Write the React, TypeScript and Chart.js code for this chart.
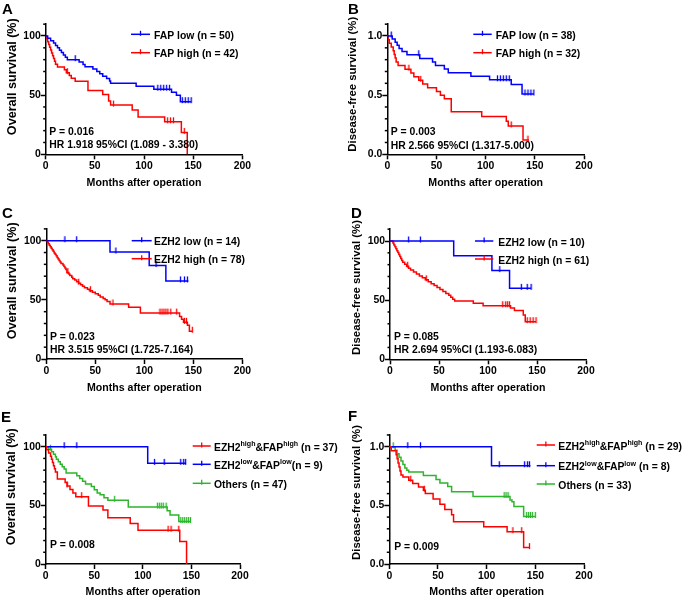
import React, { useEffect, useRef } from 'react';
import { Chart, registerables } from 'chart.js';
Chart.register(...registerables);

const FONT = '"Liberation Sans", Arial, Helvetica, sans-serif';
const BLUE = '#0000ff';
const RED = '#ff0000';
const GREEN = '#2db52d';

// ---------- Panel A: Overall survival by FAP ----------
const aLowT = [2, 5, 8, 10, 12, 14, 16, 18, 20, 22, 34, 38, 40, 48, 52, 55, 58, 62, 65, 66, 92, 110, 128, 133, 137];
const aLowS = [98, 96, 94, 92, 90, 88, 86, 84, 82, 80, 78, 76, 74, 72, 70, 68, 66, 64, 62, 60, 57.5, 55, 52.5, 50, 44.5];
const aLowC = [30, 114, 117, 120, 123, 126, 139, 142, 145, 148];
const aLowEnd = 148;
const aHighT = [1, 2, 3, 4, 5, 6, 7, 8, 9, 10, 12, 19, 21, 24, 26, 30, 43, 58, 64, 66, 88, 94, 121, 138, 144];
const aHighS = [97.6, 95.2, 92.9, 90.5, 88.1, 85.7, 83.3, 81.0, 78.6, 76.2, 73.8, 71.4, 69.0, 66.6, 64.2, 61.8, 54.0, 50.5, 45.0, 41.6, 37.5, 31.5, 27.5, 18.5, 0];
const aHighC = [22, 69, 124, 127, 130, 141];
const aHighEnd = 144;
const aLabels = ['FAP low (n = 50)', 'FAP high (n = 42)'];
const aNotes = ['P = 0.016', 'HR 1.918 95%CI (1.089 - 3.380)'];

// ---------- Panel B: Disease-free survival by FAP ----------
const bLowT = [5, 8, 10, 12, 15, 20, 33, 46, 49, 58, 62, 85, 104, 126, 137];
const bLowS = [0.974, 0.947, 0.921, 0.895, 0.868, 0.842, 0.81, 0.78, 0.75, 0.72, 0.69, 0.66, 0.63, 0.59, 0.51];
const bLowC = [4, 32, 112, 115, 118, 121, 124, 140, 143, 146, 149];
const bLowEnd = 149;
const bHighT = [1, 2, 4, 6, 7, 8, 9, 11, 18, 24, 27, 32, 36, 41, 50, 54, 58, 65, 96, 121, 123, 138];
const bHighS = [0.969, 0.938, 0.906, 0.875, 0.844, 0.813, 0.781, 0.75, 0.719, 0.688, 0.656, 0.625, 0.594, 0.563, 0.531, 0.5, 0.469, 0.36, 0.32, 0.28, 0.24, 0.12];
const bHighC = [22, 34, 126, 143];
const bHighEnd = 144;
const bLabels = ['FAP low (n = 38)', 'FAP high (n = 32)'];
const bNotes = ['P = 0.003', 'HR 2.566 95%CI (1.317-5.000)'];

// ---------- Panel C: Overall survival by EZH2 ----------
const cLowT = [65, 105, 122];
const cLowS = [90.5, 79, 66];
const cLowC = [19, 31, 71, 112, 137, 141, 144];
const cLowEnd = 145;
const cHighT = [1, 2, 3, 4, 5, 6, 7, 8, 9, 10, 11, 12, 13, 14, 15, 17, 18, 19, 20, 21, 23, 24, 26, 27, 29, 31, 33, 35, 37, 39, 42, 44, 47, 50, 53, 55, 58, 60, 62, 65, 84, 96, 136, 138, 140, 144, 146];
const cHighS = [98.7, 97.4, 96.2, 94.9, 93.6, 92.3, 91.0, 89.7, 88.5, 87.2, 85.9, 84.6, 83.3, 82.1, 80.8, 79.5, 78.2, 76.9, 75.6, 73.1, 71.8, 70.5, 69.2, 67.9, 66.7, 65.4, 64.1, 62.8, 61.5, 60.2, 59.0, 57.7, 56.4, 55.1, 53.8, 52.5, 51.2, 50.0, 48.5, 46.5, 43.7, 38.8, 36.0, 33.5, 31.0, 28.5, 23.5];
const cHighC = [22, 33, 45, 68, 116, 118, 120, 122, 124, 127, 133, 141, 143, 149];
const cHighEnd = 149;
const cLabels = ['EZH2 low (n = 14)', 'EZH2 high (n = 78)'];
const cNotes = ['P = 0.023', 'HR 3.515 95%CI (1.725-7.164)'];

// ---------- Panel D: Disease-free survival by EZH2 ----------
const dLowT = [65, 104, 122];
const dLowS = [87.5, 75, 60];
const dLowC = [19, 31, 112, 134, 140, 144];
const dLowEnd = 144;
const dHighT = [3, 4, 5, 6, 7, 8, 9, 10, 11, 12, 13, 15, 17, 19, 21, 24, 27, 30, 33, 36, 39, 42, 45, 48, 51, 54, 57, 60, 62, 64, 66, 85, 95, 123, 127, 136, 138];
const dHighS = [98.4, 96.7, 95.1, 93.4, 91.8, 90.2, 88.5, 86.9, 85.2, 83.6, 82.0, 80.3, 78.7, 77.0, 75.4, 73.8, 72.1, 70.5, 68.9, 67.2, 65.6, 63.9, 62.3, 60.7, 59.0, 57.4, 55.7, 54.1, 52.5, 50.8, 49.2, 47.3, 45.3, 43.3, 41.3, 37.5, 31.8];
const dHighC = [18, 37, 115, 118, 120, 122, 140, 143, 146, 149];
const dHighEnd = 149;
const dLabels = ['EZH2 low (n = 10)', 'EZH2 high (n = 61)'];
const dNotes = ['P = 0.085', 'HR 2.694 95%CI (1.193-6.083)'];

// ---------- Panel E: Overall survival, combined ----------
const eHhT = [1, 3, 5, 6, 7, 8, 9, 10, 12, 20, 22, 25, 28, 31, 44, 59, 64, 87, 95, 138, 145];
const eHhS = [97.3, 94.6, 91.9, 89.2, 86.5, 83.8, 81.1, 78.4, 72.5, 69.5, 66.5, 63.5, 60.5, 57.4, 49.5, 46, 39.5, 34.5, 28.8, 19.2, 0];
const eHhC = [22, 37, 126, 129, 137];
const eHhEnd = 145;
const eLlT = [105];
const eLlS = [85.8];
const eLlC = [19, 32, 112, 122, 139, 142, 144];
const eLlEnd = 144.5;
const eOtT = [3, 6, 8, 10, 11, 13, 15, 17, 19, 21, 32, 35, 38, 41, 47, 50, 53, 56, 60, 64, 85, 125, 128, 137];
const eOtS = [97.9, 95.7, 93.6, 91.5, 89.4, 87.2, 85.1, 83.0, 80.9, 77.5, 75.2, 72.9, 70.6, 68.3, 66.0, 63.3, 60.6, 59.0, 56.5, 54.3, 48.5, 45.5, 41.8, 36.2];
const eOtC = [5, 71, 115, 117, 119, 121, 124, 139, 141, 143, 145, 147, 149];
const eOtEnd = 149;
const eLabels = ['EZH2^{high}&FAP^{high} (n = 37)', 'EZH2^{low}&FAP^{low}(n = 9)', 'Others (n = 47)'];
const eNotes = ['P = 0.008'];

// ---------- Panel F: Disease-free survival, combined ----------
const fHhT = [2, 7, 8, 9, 10, 11, 12, 14, 20, 24, 30, 35, 37, 45, 52, 57, 64, 66, 97, 121, 138];
const fHhS = [0.966, 0.931, 0.897, 0.862, 0.828, 0.793, 0.759, 0.741, 0.714, 0.686, 0.657, 0.629, 0.6, 0.555, 0.51, 0.465, 0.42, 0.36, 0.318, 0.276, 0.14];
const fHhC = [22, 36, 127, 136, 144];
const fHhEnd = 144;
const fLlT = [105];
const fLlS = [0.838];
const fLlC = [19, 32, 113, 139, 142, 144];
const fLlEnd = 145;
const fOtT = [6, 8, 10, 12, 14, 16, 18, 20, 35, 48, 52, 60, 64, 86, 124, 126, 128, 138];
const fOtS = [0.97, 0.939, 0.909, 0.879, 0.848, 0.818, 0.8, 0.785, 0.755, 0.72, 0.69, 0.66, 0.615, 0.575, 0.545, 0.53, 0.49, 0.405];
const fOtC = [4, 118, 120, 122, 141, 143, 145, 147, 150];
const fOtEnd = 150;
const fLabels = ['EZH2^{high}&FAP^{high} (n = 29)', 'EZH2^{low}&FAP^{low} (n = 8)', 'Others (n = 33)'];
const fNotes = ['P = 0.009'];

const xTicks = [0, 50, 100, 150, 200];
const X_TITLE = 'Months after operation';

type Curve = { t: number[]; s: number[]; c: number[]; end: number; color: string; label: string };

const PANELS = [
  {
    letter: 'A', letterPos: [2, 13.5], L: 45.7, R: 242.3, B: 154.3, Y100: 36, frac: false,
    yTitle: 'Overall survival (%)', yTitleSize: 12.6, yTitlePos: [12.3, 76.7], xTitlePos: [144, 182.7],
    curves: [
      { t: aLowT, s: aLowS, c: aLowC, end: aLowEnd, color: BLUE, label: aLabels[0] },
      { t: aHighT, s: aHighS, c: aHighC, end: aHighEnd, color: RED, label: aLabels[1] },
    ] as Curve[],
    legend: { x1: 131, x2: 150, tx: 154, rows: [34.3, 52.7] },
    notes: { x: 49.3, rows: [131.7, 145], texts: aNotes },
  },
  {
    letter: 'B', letterPos: [348, 13.5], L: 387.3, R: 584, B: 154.3, Y100: 36, frac: true,
    yTitle: 'Disease-free survival (%)', yTitleSize: 11.4, yTitlePos: [353.3, 84.2], xTitlePos: [485.7, 182.7],
    curves: [
      { t: bLowT, s: bLowS, c: bLowC, end: bLowEnd, color: BLUE, label: bLabels[0] },
      { t: bHighT, s: bHighS, c: bHighC, end: bHighEnd, color: RED, label: bLabels[1] },
    ] as Curve[],
    legend: { x1: 473.3, x2: 491.7, tx: 495.7, rows: [34.3, 52.7] },
    notes: { x: 390.7, rows: [132.5, 146.2], texts: bNotes },
  },
  {
    letter: 'C', letterPos: [2, 218], L: 46.3, R: 242.3, B: 359, Y100: 240.7, frac: false,
    yTitle: 'Overall survival (%)', yTitleSize: 12.6, yTitlePos: [12.3, 280.8], xTitlePos: [144.3, 387.7],
    curves: [
      { t: cLowT, s: cLowS, c: cLowC, end: cLowEnd, color: BLUE, label: cLabels[0] },
      { t: cHighT, s: cHighS, c: cHighC, end: cHighEnd, color: RED, label: cLabels[1] },
    ] as Curve[],
    legend: { x1: 131.7, x2: 151.7, tx: 154, rows: [240.7, 258.7] },
    notes: { x: 50, rows: [336.7, 350.5], texts: cNotes },
  },
  {
    letter: 'D', letterPos: [351, 218], L: 390, R: 586, B: 359.3, Y100: 241, frac: false,
    yTitle: 'Disease-free survival (%)', yTitleSize: 11.4, yTitlePos: [356.7, 287.5], xTitlePos: [488, 387.7],
    curves: [
      { t: dLowT, s: dLowS, c: dLowC, end: dLowEnd, color: BLUE, label: dLabels[0] },
      { t: dHighT, s: dHighS, c: dHighC, end: dHighEnd, color: RED, label: dLabels[1] },
    ] as Curve[],
    legend: { x1: 475, x2: 493.3, tx: 498.3, rows: [241, 259] },
    notes: { x: 394, rows: [336.7, 350.5], texts: dNotes },
  },
  {
    letter: 'E', letterPos: [1, 422], L: 45.7, R: 240, B: 564, Y100: 446.7, frac: false,
    yTitle: 'Overall survival (%)', yTitleSize: 12.6, yTitlePos: [11.7, 486.7], xTitlePos: [143, 592.3],
    curves: [
      { t: eHhT, s: eHhS, c: eHhC, end: eHhEnd, color: RED, label: eLabels[0] },
      { t: eLlT, s: eLlS, c: eLlC, end: eLlEnd, color: BLUE, label: eLabels[1] },
      { t: eOtT, s: eOtS, c: eOtC, end: eOtEnd, color: GREEN, label: eLabels[2] },
    ] as Curve[],
    legend: { x1: 192.7, x2: 210.7, tx: 214, rows: [446, 464.3, 483.3] },
    notes: { x: 50, rows: [545], texts: eNotes },
  },
  {
    letter: 'F', letterPos: [348, 421], L: 389.3, R: 584, B: 564, Y100: 446.7, frac: true,
    yTitle: 'Disease-free survival (%)', yTitleSize: 11.4, yTitlePos: [356.7, 492.5], xTitlePos: [486.7, 592.3],
    curves: [
      { t: fHhT, s: fHhS, c: fHhC, end: fHhEnd, color: RED, label: fLabels[0] },
      { t: fLlT, s: fLlS, c: fLlC, end: fLlEnd, color: BLUE, label: fLabels[1] },
      { t: fOtT, s: fOtS, c: fOtC, end: fOtEnd, color: GREEN, label: fLabels[2] },
    ] as Curve[],
    legend: { x1: 536.7, x2: 555, tx: 558.3, rows: [445, 465.7, 484] },
    notes: { x: 394.3, rows: [547], texts: fNotes },
  },
];

const W = 685;
const H = 599;
const TEXT = 10.4;

function stepAt(t: number[], s: number[], start: number, x: number) {
  let v = start;
  for (let i = 0; i < t.length; i++) if (t[i] <= x) v = s[i];
  return v;
}

function kmPoints(c: Curve, start: number) {
  const pts = [{ x: 0, y: start }];
  c.t.forEach((ti, i) => pts.push({ x: ti, y: c.s[i] }));
  if (c.end > c.t[c.t.length - 1]) pts.push({ x: c.end, y: c.s[c.s.length - 1] });
  return pts;
}

function tickImage(color: string) {
  const cv = document.createElement('canvas');
  cv.width = 3;
  cv.height = 11;
  const g = cv.getContext('2d')!;
  g.strokeStyle = color;
  g.lineWidth = 1.3;
  g.beginPath();
  g.moveTo(1.5, 1);
  g.lineTo(1.5, 7);
  g.stroke();
  return cv;
}

function drawRich(ctx: CanvasRenderingContext2D, str: string, x: number, y: number, size: number) {
  const parts = str.split(/(\^\{[^}]*\})/);
  let cx = x;
  ctx.textAlign = 'left';
  ctx.textBaseline = 'middle';
  for (const part of parts) {
    if (!part) continue;
    if (part.startsWith('^{')) {
      const t = part.slice(2, -1);
      ctx.font = `bold ${size * 0.68}px ${FONT}`;
      ctx.fillText(t, cx, y - size * 0.36);
      cx += ctx.measureText(t).width;
    } else {
      ctx.font = `bold ${size}px ${FONT}`;
      ctx.fillText(part, cx, y);
      cx += ctx.measureText(part).width;
    }
  }
}

function buildChart(canvas: HTMLCanvasElement, p: (typeof PANELS)[number]) {
  const start = p.frac ? 1 : 100;
  const yMax = p.frac ? 1.1 : 110;
  const major = p.frac ? 0.5 : 50;
  const minor = p.frac ? 0.1 : 10;
  const top = p.B - (p.B - p.Y100) * 1.1;
  const datasets: any[] = [];
  p.curves.forEach((c) => {
    datasets.push({
      type: 'line',
      data: kmPoints(c, start),
      borderColor: c.color,
      borderWidth: 1.5,
      pointRadius: 0,
      stepped: 'before',
      fill: false,
    });
    datasets.push({
      type: 'line',
      data: c.c.map((x) => ({ x, y: stepAt(c.t, c.s, start, x) })),
      showLine: false,
      pointRadius: 3,
      pointStyle: tickImage(c.color),
      borderColor: c.color,
      backgroundColor: c.color,
    });
  });

  const tickFont = { family: FONT, size: TEXT, weight: 'bold' as const };
  const deco = {
    id: 'deco' + p.letter,
    afterDraw(chart: any) {
      const ctx: CanvasRenderingContext2D = chart.ctx;
      const ys = chart.scales.y;
      const area = chart.chartArea;
      ctx.save();
      // minor ticks on the y axis
      ctx.strokeStyle = '#000';
      ctx.lineWidth = 1.5;
      for (let k = 1; k <= 11; k++) {
        if (k % 5 === 0) continue;
        const py = ys.getPixelForValue(k * minor);
        ctx.beginPath();
        ctx.moveTo(area.left - 2.5, py);
        ctx.lineTo(area.left, py);
        ctx.stroke();
      }
      // legend
      p.curves.forEach((c, i) => {
        const ly = p.legend.rows[i];
        ctx.strokeStyle = c.color;
        ctx.lineWidth = 1.5;
        ctx.beginPath();
        ctx.moveTo(p.legend.x1, ly);
        ctx.lineTo(p.legend.x2, ly);
        ctx.stroke();
        const mx = (p.legend.x1 + p.legend.x2) / 2;
        ctx.lineWidth = 1.3;
        ctx.beginPath();
        ctx.moveTo(mx, ly - 3.5);
        ctx.lineTo(mx, ly + 1.5);
        ctx.stroke();
        ctx.fillStyle = '#000';
        drawRich(ctx, c.label, p.legend.tx, ly + 1.8, TEXT);
      });
      // notes
      ctx.fillStyle = '#000';
      p.notes.texts.forEach((t, i) => drawRich(ctx, t, p.notes.x, p.notes.rows[i], TEXT));
      // x title
      ctx.font = `bold ${TEXT + 0.2}px ${FONT}`;
      ctx.textAlign = 'center';
      ctx.textBaseline = 'middle';
      ctx.fillText(X_TITLE, p.xTitlePos[0], p.xTitlePos[1]);
      // y title
      ctx.save();
      ctx.translate(p.yTitlePos[0], p.yTitlePos[1]);
      ctx.rotate(-Math.PI / 2);
      ctx.font = `bold ${p.yTitleSize}px ${FONT}`;
      ctx.fillText(p.yTitle, 0, 0);
      ctx.restore();
      // panel letter
      ctx.font = `bold 15px ${FONT}`;
      ctx.textAlign = 'left';
      ctx.textBaseline = 'alphabetic';
      ctx.fillText(p.letter, p.letterPos[0], p.letterPos[1]);
      ctx.restore();
    },
  };

  return new Chart(canvas, {
    type: 'line',
    data: { datasets },
    plugins: [deco],
    options: {
      animation: false,
      responsive: false,
      events: [],
      layout: {
        autoPadding: false,
        padding: { left: p.L - 30, right: W - p.R, top: top, bottom: H - p.B - 20 },
      },
      plugins: { legend: { display: false }, tooltip: { enabled: false } },
      scales: {
        x: {
          type: 'linear',
          min: 0,
          max: 200,
          afterFit: (s: any) => { s.height = 20; },
          afterBuildTicks: (s: any) => { s.ticks = xTicks.map((v) => ({ value: v })); },
          ticks: { font: tickFont, color: '#000', padding: 1, maxRotation: 0, autoSkip: false },
          grid: { display: true, drawOnChartArea: false, drawTicks: true, tickLength: 5, tickWidth: 1.5, tickColor: '#000' },
          border: { display: true, color: '#000', width: 1.5 },
        },
        y: {
          type: 'linear',
          min: 0,
          max: yMax,
          afterFit: (s: any) => { s.width = 30; },
          ticks: {
            stepSize: major,
            includeBounds: false,
            font: tickFont,
            color: '#000',
            padding: 0,
            callback: (v: any) => (p.frac ? Number(v).toFixed(1) : String(v)),
          },
          grid: { display: true, drawOnChartArea: false, drawTicks: true, tickLength: 5, tickWidth: 1.5, tickColor: '#000' },
          border: { display: true, color: '#000', width: 1.5 },
        },
      },
    } as any,
  });
}

export default function App() {
  const refs = useRef<(HTMLCanvasElement | null)[]>([]);
  useEffect(() => {
    const charts = PANELS.map((p, i) => buildChart(refs.current[i]!, p));
    return () => charts.forEach((c) => c.destroy());
  }, []);
  return (
    <div style={{ position: 'absolute', left: 0, top: 0, width: W, height: H, background: '#fff' }}>
      {PANELS.map((p, i) => (
        <canvas
          key={p.letter}
          ref={(el) => { refs.current[i] = el; }}
          width={W}
          height={H}
          style={{ position: 'absolute', left: 0, top: 0, width: W, height: H }}
        />
      ))}
    </div>
  );
}
